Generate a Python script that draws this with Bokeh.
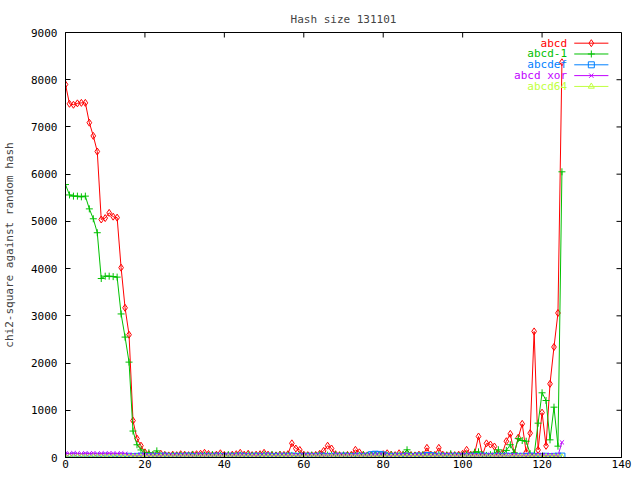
from bokeh.plotting import figure
from bokeh.models import Range1d
from bokeh.embed import file_html
from bokeh.resources import INLINE
from bokeh.core.properties import value

xs = list(range(0, 126))

abcd = [7900, 7490, 7470, 7500, 7510, 7510, 7090, 6810, 6480, 5040,
        5070, 5180, 5100, 5080, 4020, 3170, 2600, 780, 400, 250,
        110, 70, 50, 60, 80, 55, 45, 60, 50, 70,
        60, 50, 65, 70, 80, 100, 75, 50, 60, 90,
        55, 45, 60, 70, 100, 60, 80, 50, 60, 70,
        100, 60, 50, 45, 60, 55, 70, 300, 190, 160,
        60, 50, 45, 55, 80, 140, 250, 190, 70, 50,
        45, 55, 60, 163, 110, 55, 45, 50, 60, 55,
        70, 90, 60, 50, 90, 55, 90, 50, 45, 60,
        50, 205, 60, 55, 205, 60, 45, 55, 50, 60,
        80, 163, 60, 80, 445, 50, 300, 275, 233, 80,
        90, 345, 500, 80, 420, 713, 110, 515, 2670, 160,
        950, 247, 1560, 2340, 3060, 8370]

abcd_1 = [5780, 5560, 5535, 5535, 5520, 5535, 5265, 5055, 4760, 3790,
          3840, 3840, 3830, 3820, 3040, 2550, 2020, 560, 270, 160,
          90, 100, 60, 140, 40, 50, 35, 45, 40, 50,
          45, 40, 60, 45, 40, 50, 45, 60, 40, 50,
          45, 60, 40, 45, 50, 40, 60, 45, 40, 50,
          60, 40, 65, 45, 60, 40, 50, 45, 40, 60,
          45, 40, 50, 45, 60, 40, 50, 45, 60, 40,
          50, 45, 40, 50, 45, 60, 40, 50, 45, 40,
          50, 45, 60, 40, 50, 70, 163, 50, 40, 45,
          60, 40, 50, 45, 60, 40, 50, 80, 45, 40,
          50, 60, 45, 113, 120, 50, 45, 60, 90, 163,
          60, 150, 270, 100, 400, 360, 345, 80, 50, 727,
          1370, 1207, 374, 1066, 240, 6050]

abcdef = [25, 20, 30, 22, 18, 28, 24, 20, 26, 22,
          30, 18, 24, 20, 28, 22, 26, 20, 24, 30,
          22, 18, 26, 20, 24, 28, 22, 20, 26, 18,
          24, 30, 20, 22, 26, 18, 24, 20, 28, 22,
          20, 26, 24, 18, 30, 22, 20, 24, 26, 18,
          22, 28, 20, 24, 18, 26, 22, 30, 20, 24,
          18, 26, 22, 20, 28, 24, 18, 22, 26, 20,
          30, 24, 18, 22, 26, 20, 28, 60, 70, 65,
          55, 24, 20, 26, 18, 22, 28, 20, 24, 30,
          22, 42, 40, 20, 26, 24, 18, 22, 28, 20,
          24, 18, 26, 22, 20, 30, 24, 18, 22, 26,
          20, 28, 24, 18, 22, 26, 20, 30, 24, 18,
          22, 26, 20, 24, 28, 30]

abcd_xor = [85, 80, 90, 85, 80, 88, 82, 90, 78, 85,
            80, 88, 84, 80, 86, 78, 55, 50, 45, 48,
            52, 44, 50, 46, 42, 55, 48, 45, 50, 44,
            52, 46, 40, 55, 48, 44, 50, 46, 52, 42,
            48, 55, 45, 50, 44, 48, 52, 46, 40, 50,
            45, 55, 48, 44, 50, 46, 42, 52, 48, 45,
            50, 44, 55, 46, 48, 42, 50, 45, 52, 48,
            44, 50, 46, 55, 42, 48, 45, 50, 44, 52,
            46, 48, 40, 50, 45, 55, 48, 44, 50, 46,
            42, 52, 48, 45, 50, 44, 55, 46, 48, 42,
            50, 45, 52, 48, 44, 50, 46, 55, 42, 48,
            45, 50, 44, 52, 46, 48, 40, 50, 45, 55,
            48, 44, 50, 46, 40, 320]

abcd64 = [5, 8, 4, 6, 7, 5, 3, 8, 6, 4,
          7, 5, 6, 3, 8, 5, 4, 7, 6, 5,
          8, 4, 6, 5, 7, 3, 6, 8, 4, 5,
          7, 6, 4, 8, 5, 6, 3, 7, 5, 6,
          4, 8, 5, 7, 6, 4, 5, 8, 6, 3,
          7, 5, 6, 4, 8, 5, 7, 6, 4, 5,
          8, 3, 6, 7, 5, 4, 6, 8, 5, 7,
          4, 6, 5, 3, 8, 6, 7, 4, 5, 6,
          8, 5, 4, 7, 6, 3, 5, 8, 6, 4,
          7, 5, 6, 4, 8, 5, 3, 7, 6, 5,
          4, 8, 6, 5, 7, 3, 6, 4, 8, 5,
          7, 6, 4, 5, 8, 6, 3, 7, 5, 4,
          6, 8, 5, 7, 4, 6]

x_ticks = [0, 20, 40, 60, 80, 100, 120, 140]
y_ticks = [0, 1000, 2000, 3000, 4000, 5000, 6000, 7000, 8000, 9000]

title_text = "Hash size 131101"
series_names = ["abcd", "abcd-1", "abcdef", "abcd xor", "abcd64"]
series_data = [abcd, abcd_1, abcdef, abcd_xor, abcd64]
colors = ["#ff0000", "#00c000", "#0080ff", "#c000ff", "#c0ff40"]
markers = ["diamond", "cross", "square", "x", "triangle"]
msizes = [7, 7, 6, 6, 6]

FONT = "DejaVu Sans Mono"
X0, X1, Y0, Y1 = 0, 140, 0, 9000
W, H = 632, 472
BL, BR, BT, BB = 65, 11, 32, 15

p = figure(width=W, height=H, output_backend="svg", toolbar_location=None,
           x_range=Range1d(X0, X1), y_range=Range1d(Y0, Y1),
           min_border_left=BL, min_border_right=BR, min_border_top=BT, min_border_bottom=BB)

fw = W - BL - BR
fh = H - BT - BB
px_x = (X1 - X0) / fw   # data units per pixel
px_y = (Y1 - Y0) / fh

p.title.text = title_text
p.title.align = "center"
p.title.text_font = FONT
p.title.text_font_size = "11px"
p.title.text_font_style = "normal"
p.title.standoff = 13
p.title.offset = 0

p.xgrid.visible = False
p.ygrid.visible = False
p.outline_line_color = "black"
p.outline_line_width = 1

TICK = 5
for ax, tk in ((p.xaxis[0], x_ticks), (p.yaxis[0], y_ticks)):
    ax.ticker = tk
    ax.major_tick_in = TICK
    ax.major_tick_out = 0
    ax.minor_tick_in = 0
    ax.minor_tick_out = 0
    ax.major_label_text_font = FONT
    ax.major_label_text_font_size = "11px"
    ax.major_label_text_color = "black"
    ax.axis_line_color = "black"
    ax.major_tick_line_color = "black"
p.xaxis.major_label_standoff = 2
p.yaxis.major_label_standoff = 8
p.yaxis.axis_label = "chi2-square against random hash"
p.yaxis.axis_label_text_font = FONT
p.yaxis.axis_label_text_font_size = "11px"
p.yaxis.axis_label_text_font_style = "normal"
p.yaxis.axis_label_standoff = 12

# mirrored ticks on the top and right frame edges
p.segment(x0=x_ticks, x1=x_ticks, y0=[Y1] * len(x_ticks), y1=[Y1 - TICK * px_y] * len(x_ticks),
          line_color="black", line_width=1)
p.segment(x0=[X1] * len(y_ticks), x1=[X1 - TICK * px_x] * len(y_ticks), y0=y_ticks, y1=y_ticks,
          line_color="black", line_width=1)

for name, ys, c, m, s in zip(series_names, series_data, colors, markers, msizes):
    p.line(xs, ys, line_color=c, line_width=1)
    p.scatter(xs, ys, marker=m, size=s, line_color=c, fill_color=None, line_width=1)

# legend (gnuplot style: text left, sample right), placed in data space
leg_text_x = 126.3
leg_line_x0, leg_line_x1 = 128.1, 136.7
leg_y0, leg_dy = 8774, 229
for i, (name, c, m, s) in enumerate(zip(series_names, colors, markers, msizes)):
    yy = leg_y0 - i * leg_dy
    p.text([leg_text_x], [yy], text=[name], text_color=c, text_align="right",
           text_baseline="middle", text_font=value(FONT), text_font_size="11px")
    p.line([leg_line_x0, leg_line_x1], [yy, yy], line_color=c, line_width=1)
    p.scatter([(leg_line_x0 + leg_line_x1) / 2], [yy], marker=m, size=s,
              line_color=c, fill_color=None)

open("out.html", "w").write(file_html(p, INLINE))
